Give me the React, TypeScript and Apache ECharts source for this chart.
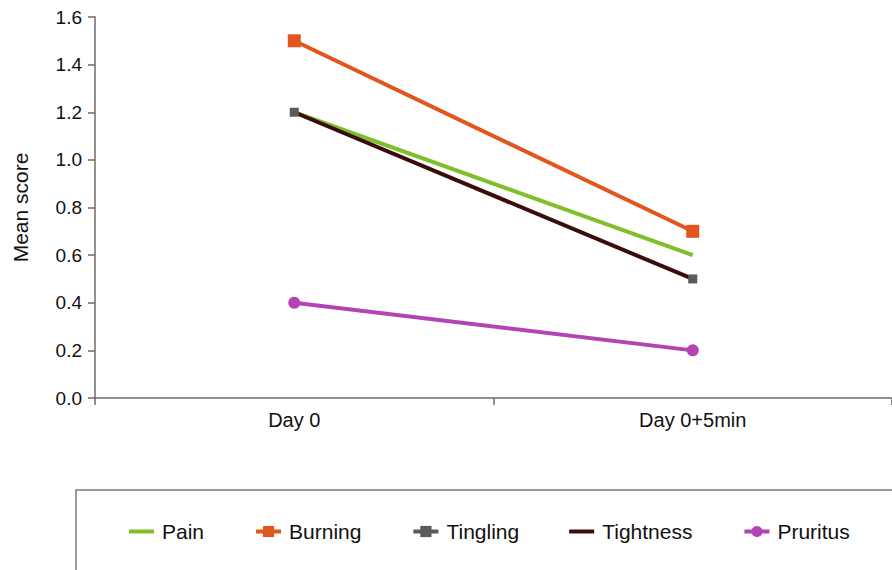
import React, { useEffect, useRef } from "react";
import * as echarts from "echarts";

const categories = ["Day 0", "Day 0+5min"];
const seriesNames = ["Pain", "Burning", "Tingling", "Tightness", "Pruritus"];
const pain = [1.2, 0.6];
const burning = [1.5, 0.7];
const tingling = [1.2, 0.5];
const tightness = [1.2, 0.5];
const pruritus = [0.4, 0.2];

const FONT = "'Liberation Sans', Arial, sans-serif";
const LINE_ICON = "path://M0,0H25V4H0Z";

export default function App() {
  const ref = useRef<HTMLDivElement>(null);
  useEffect(() => {
    if (!ref.current) return;
    const chart = echarts.init(ref.current, undefined, { renderer: "svg" });
    chart.setOption({
      animation: false,
      textStyle: { fontFamily: FONT },
      grid: { left: 95, top: 17, width: 800, bottom: 172, containLabel: false },
      graphic: [
        {
          type: "rect",
          shape: { x: 76, y: 490, width: 840, height: 100 },
          style: { fill: "none", stroke: "#7a7a7a", lineWidth: 1.5 },
          z: 0,
        },
      ],
      legend: {
        left: 124,
        top: 516,
        itemGap: 50,
        itemWidth: 25,
        itemHeight: 14,
        lineStyle: { width: 4 },
        textStyle: { fontSize: 21, color: "#111", fontFamily: FONT, padding: [0, 0, 0, 3] },
        data: [
          { name: "Pain", icon: LINE_ICON },
          { name: "Burning" },
          { name: "Tingling", lineStyle: { width: 4, color: "#5a5a5a", opacity: 1 } },
          { name: "Tightness", icon: LINE_ICON },
          { name: "Pruritus" },
        ],
      },
      xAxis: {
        type: "category",
        data: categories,
        boundaryGap: true,
        axisLine: { lineStyle: { color: "#6b6b6b", width: 1.5 } },
        axisTick: { show: true, length: 7, lineStyle: { color: "#6b6b6b", width: 1.5 } },
        axisLabel: { fontSize: 20, color: "#111", margin: 12, fontFamily: FONT },
      },
      yAxis: {
        type: "value",
        min: 0,
        max: 1.6,
        interval: 0.2,
        name: "Mean score",
        nameLocation: "middle",
        nameGap: 64,
        nameTextStyle: { fontSize: 21, color: "#111", fontFamily: FONT },
        splitLine: { show: false },
        axisLine: { show: true, lineStyle: { color: "#6b6b6b", width: 1.5 } },
        axisTick: { show: true, length: 7, lineStyle: { color: "#6b6b6b", width: 1.5 } },
        axisLabel: {
          fontSize: 19,
          color: "#111",
          margin: 13,
          fontFamily: FONT,
          formatter: (v: number) => v.toFixed(1),
        },
      },
      series: [
        {
          name: seriesNames[0],
          type: "line",
          data: pain,
          symbol: "none",
          lineStyle: { color: "#7fbf2a", width: 4 },
          itemStyle: { color: "#7fbf2a" },
          z: 2,
        },
        {
          name: seriesNames[1],
          type: "line",
          data: burning,
          symbol: "rect",
          symbolSize: 13,
          lineStyle: { color: "#e2561d", width: 4 },
          itemStyle: { color: "#e2561d" },
          z: 2,
        },
        {
          name: seriesNames[2],
          type: "line",
          data: tingling,
          symbol: "rect",
          symbolSize: 9,
          lineStyle: { color: "#5a5a5a", width: 4, opacity: 0 },
          itemStyle: { color: "#5a5a5a" },
          z: 4,
        },
        {
          name: seriesNames[3],
          type: "line",
          data: tightness,
          symbol: "none",
          lineStyle: { color: "#3a0c0c", width: 4 },
          itemStyle: { color: "#3a0c0c" },
          z: 3,
        },
        {
          name: seriesNames[4],
          type: "line",
          data: pruritus,
          symbol: "circle",
          symbolSize: 12,
          lineStyle: { color: "#b444b3", width: 4 },
          itemStyle: { color: "#b444b3" },
          z: 2,
        },
      ],
    });
    return () => chart.dispose();
  }, []);
  return (
    <div
      ref={ref}
      style={{ position: "absolute", left: 0, top: 0, width: 892, height: 570, overflow: "hidden" }}
    />
  );
}
